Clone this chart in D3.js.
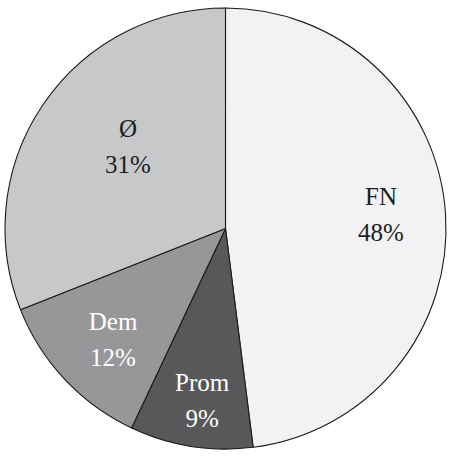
<!DOCTYPE html>
<html>
<head>
<meta charset="utf-8">
<script src="https://cdn.jsdelivr.net/npm/d3@7"></script>
<style>
  html, body { margin: 0; padding: 0; background: #fff; }
  svg { display: block; }
</style>
</head>
<body>
<svg id="chart" width="451" height="456"></svg>
<script>
// slice data, clockwise from 12 o'clock
const labels = ['FN', 'Prom', 'Dem', 'Ø'];
const values = [48, 9, 12, 31];

// styling / layout kept apart from the data
const fills = ['#f2f2f4', '#58585a', '#97979a', '#c7c8ca'];
const textColors = ['#1e1e1e', '#ffffff', '#ffffff', '#1e1e1e'];
const labelRadius = [155.6, 181.7, 164.3, 122.1];
const labelAngleShift = [1.4, -1.6, -3.6, 2.8]; // degrees off the slice middle

const cx = 225.5;
const cy = 228.5;
const radius = 220.5;

const svg = d3.select('#chart');
const g = svg.append('g').attr('transform', `translate(${cx},${cy})`);

const pie = d3.pie().sort(null).value(d => d.value);
const arcs = pie(labels.map((label, i) => ({ label, value: values[i], i })));
const arc = d3.arc().innerRadius(0).outerRadius(radius);

g.selectAll('path.slice')
  .data(arcs)
  .join('path')
  .attr('class', 'slice')
  .attr('d', arc)
  .attr('fill', d => fills[d.data.i])
  .attr('stroke', '#1a1a1a')
  .attr('stroke-width', 1.1)
  .attr('stroke-linejoin', 'round');

function labelPos(d) {
  const i = d.data.i;
  const a = (d.startAngle + d.endAngle) / 2 + labelAngleShift[i] * Math.PI / 180;
  const r = labelRadius[i];
  return [r * Math.sin(a), -r * Math.cos(a)];
}

const labelGroups = g.selectAll('g.label')
  .data(arcs)
  .join('g')
  .attr('class', 'label')
  .attr('transform', d => `translate(${labelPos(d)})`)
  .attr('fill', d => textColors[d.data.i])
  .style('font-family', '"Liberation Serif", "Times New Roman", serif')
  .style('font-size', '25px')
  .attr('text-anchor', 'middle');

labelGroups.append('text')
  .attr('y', -18)
  .text(d => d.data.label);

labelGroups.append('text')
  .attr('y', 18)
  .text(d => `${d.data.value}%`);
</script>
</body>
</html>
